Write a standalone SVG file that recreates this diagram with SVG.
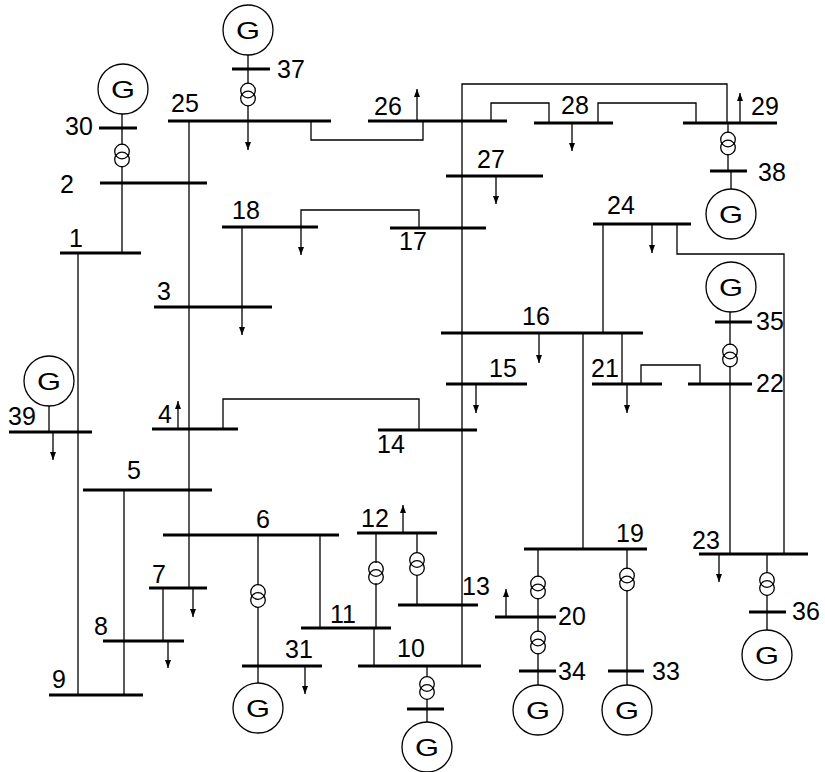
<svg xmlns="http://www.w3.org/2000/svg" xmlns:xlink="http://www.w3.org/1999/xlink" width="825" height="772" viewBox="0 0 825 772">
<style>
.ln{stroke:#000;stroke-width:1.3;fill:none}
.ld{stroke:#000;stroke-width:1.3;fill:none;marker-end:url(#ah)}
.bus{stroke:#000;stroke-width:3}
.lb{font-family:"Liberation Sans",Arial,sans-serif;font-size:25px;fill:#000}
.gc{stroke:#000;stroke-width:1.3;fill:#fff}
.gt{font-family:"Liberation Sans",Arial,sans-serif;font-size:24px;fill:#000;text-anchor:middle}
.tc{stroke:#000;stroke-width:1.3;fill:none}
</style>
<defs>
<marker id="ah" markerUnits="userSpaceOnUse" markerWidth="8" markerHeight="6" refX="8" refY="3" orient="auto">
<path d="M0,0 L8,3 L0,6 z" fill="#000"/>
</marker>
<g id="tr"><circle class="tc" cx="0" cy="-4" r="7.3"/><circle class="tc" cx="0" cy="4" r="7.3"/></g>
</defs>
<rect width="825" height="772" fill="#fff"/>

<g id="connectors">
<path class="ln" d="M248,55 V84 M248,105 V121"/>
<path class="ln" d="M122,114 V145 M122,166 V253"/>
<path class="ln" d="M258,535 V585 M258,607 V683"/>
<path class="ln" d="M376,628 V583 M376,563 V533"/>
<path class="ln" d="M417,533 V553 M417,575 V605"/>
<path class="ln" d="M427,666 V677 M427,699 V722"/>
<path class="ln" d="M728,123 V133 M728,154 V171 M731,171 V189"/>
<path class="ln" d="M730,312 V345 M730,366 V384"/>
<path class="ln" d="M538,549 V577 M538,598 V632 M538,653 V685"/>
<path class="ln" d="M627,549 V569 M627,590 V685"/>
<path class="ln" d="M767,554 V573 M767,595 V630"/>
<path class="ln" d="M49,406 V432"/>
<path class="ln" d="M189,121 V588"/>
<path class="ln" d="M78,253 V695"/>
<path class="ln" d="M124,490 V695"/>
<path class="ln" d="M223,429 V399 H419 V430"/>
<path class="ln" d="M163,588 V641"/>
<path class="ln" d="M320,535 V628"/>
<path class="ln" d="M374,628 V666"/>
<path class="ln" d="M462,666 V84 H727 V123"/>
<path class="ln" d="M311,121 V140 H423 V121"/>
<path class="ln" d="M491,121 V103 H549 V123"/>
<path class="ln" d="M598,123 V103 H696 V123"/>
<path class="ln" d="M603,224 V333"/>
<path class="ln" d="M677,224 V254 H784 V554"/>
<path class="ln" d="M622,333 V384"/>
<path class="ln" d="M641,384 V365 H700 V384"/>
<path class="ln" d="M730,384 V554"/>
<path class="ln" d="M583,333 V549"/>
<path class="ld" d="M242,227 V335"/>
<path class="ld" d="M419,228 V210 H301 V255"/>
<path class="ld" d="M248,121 V150"/>
<path class="ld" d="M53,432 V460"/>
<path class="ld" d="M178,429 V401"/>
<path class="ld" d="M193,588 V617"/>
<path class="ld" d="M168,641 V668"/>
<path class="ld" d="M305,666 V694"/>
<path class="ld" d="M403,533 V505"/>
<path class="ld" d="M417,121 V89"/>
<path class="ld" d="M572,123 V151"/>
<path class="ld" d="M740,123 V93"/>
<path class="ld" d="M496,176 V204"/>
<path class="ld" d="M539,333 V363"/>
<path class="ld" d="M652,224 V253"/>
<path class="ld" d="M627,384 V413"/>
<path class="ld" d="M476,384 V413"/>
<path class="ld" d="M506,617 V589"/>
<path class="ld" d="M719,554 V582"/>
</g>

<g id="transformers">
<use xlink:href="#tr" x="248" y="94.5"/>
<use xlink:href="#tr" x="122" y="155.5"/>
<use xlink:href="#tr" x="258" y="596"/>
<use xlink:href="#tr" x="376" y="573"/>
<use xlink:href="#tr" x="417" y="564"/>
<use xlink:href="#tr" x="427" y="688"/>
<use xlink:href="#tr" x="728" y="143.5"/>
<use xlink:href="#tr" x="730" y="355.5"/>
<use xlink:href="#tr" x="538" y="587.5"/>
<use xlink:href="#tr" x="538" y="642.5"/>
<use xlink:href="#tr" x="627" y="579.5"/>
<use xlink:href="#tr" x="767" y="584"/>
</g>

<g id="bus1"><line class="bus" x1="60" y1="253" x2="141" y2="253"/><text class="lb" x="69" y="247">1</text></g>
<g id="bus2"><line class="bus" x1="100" y1="183" x2="207" y2="183"/><text class="lb" x="60" y="193">2</text></g>
<g id="bus3"><line class="bus" x1="154" y1="307" x2="272" y2="307"/><text class="lb" x="157" y="300">3</text></g>
<g id="bus4"><line class="bus" x1="152" y1="429" x2="238" y2="429"/><text class="lb" x="158" y="423">4</text></g>
<g id="bus5"><line class="bus" x1="83" y1="490" x2="212" y2="490"/><text class="lb" x="127" y="479">5</text></g>
<g id="bus6"><line class="bus" x1="163" y1="535" x2="339" y2="535"/><text class="lb" x="256" y="528">6</text></g>
<g id="bus7"><line class="bus" x1="149" y1="588" x2="207" y2="588"/><text class="lb" x="152" y="583">7</text></g>
<g id="bus8"><line class="bus" x1="103" y1="641" x2="184" y2="641"/><text class="lb" x="94" y="635">8</text></g>
<g id="bus9"><line class="bus" x1="49" y1="695" x2="143" y2="695"/><text class="lb" x="52" y="688">9</text></g>
<g id="bus10"><line class="bus" x1="358" y1="666" x2="481" y2="666"/><text class="lb" x="397" y="657">10</text></g>
<g id="bus11"><line class="bus" x1="301" y1="628" x2="391" y2="628"/><text class="lb" x="330" y="623">11</text></g>
<g id="bus12"><line class="bus" x1="357" y1="533" x2="437" y2="533"/><text class="lb" x="361" y="527">12</text></g>
<g id="bus13"><line class="bus" x1="398" y1="605" x2="478" y2="605"/><text class="lb" x="462" y="595">13</text></g>
<g id="bus14"><line class="bus" x1="378" y1="430" x2="477" y2="430"/><text class="lb" x="377" y="453">14</text></g>
<g id="bus15"><line class="bus" x1="446" y1="384" x2="527" y2="384"/><text class="lb" x="489" y="377">15</text></g>
<g id="bus16"><line class="bus" x1="441" y1="333" x2="643" y2="333"/><text class="lb" x="522" y="325">16</text></g>
<g id="bus17"><line class="bus" x1="390" y1="228" x2="486" y2="228"/><text class="lb" x="399" y="250">17</text></g>
<g id="bus18"><line class="bus" x1="222" y1="227" x2="318" y2="227"/><text class="lb" x="232" y="219">18</text></g>
<g id="bus19"><line class="bus" x1="524" y1="549" x2="647" y2="549"/><text class="lb" x="616" y="542">19</text></g>
<g id="bus20"><line class="bus" x1="495" y1="617" x2="556" y2="617"/><text class="lb" x="558" y="625">20</text></g>
<g id="bus21"><line class="bus" x1="592" y1="384" x2="662" y2="384"/><text class="lb" x="591" y="377">21</text></g>
<g id="bus22"><line class="bus" x1="688" y1="384" x2="752" y2="384"/><text class="lb" x="756" y="392">22</text></g>
<g id="bus23"><line class="bus" x1="699" y1="554" x2="808" y2="554"/><text class="lb" x="692" y="549">23</text></g>
<g id="bus24"><line class="bus" x1="593" y1="224" x2="691" y2="224"/><text class="lb" x="607" y="214">24</text></g>
<g id="bus25"><line class="bus" x1="168" y1="121" x2="331" y2="121"/><text class="lb" x="171" y="112">25</text></g>
<g id="bus26"><line class="bus" x1="368" y1="121" x2="507" y2="121"/><text class="lb" x="374" y="115">26</text></g>
<g id="bus27"><line class="bus" x1="446" y1="176" x2="543" y2="176"/><text class="lb" x="477" y="168">27</text></g>
<g id="bus28"><line class="bus" x1="534" y1="123" x2="613" y2="123"/><text class="lb" x="561" y="114">28</text></g>
<g id="bus29"><line class="bus" x1="683" y1="123" x2="777" y2="123"/><text class="lb" x="751" y="115">29</text></g>
<g id="bus30"><line class="bus" x1="99" y1="128" x2="137" y2="128"/><text class="lb" x="65" y="135">30</text></g>
<g id="bus31"><line class="bus" x1="242" y1="666" x2="322" y2="666"/><text class="lb" x="285" y="658">31</text></g>
<g id="bus32"><line class="bus" x1="407" y1="709" x2="444" y2="709"/></g>
<g id="bus33"><line class="bus" x1="608" y1="671" x2="644" y2="671"/><text class="lb" x="652" y="680">33</text></g>
<g id="bus34"><line class="bus" x1="519" y1="671" x2="556" y2="671"/><text class="lb" x="558" y="680">34</text></g>
<g id="bus35"><line class="bus" x1="715" y1="322" x2="752" y2="322"/><text class="lb" x="756" y="330">35</text></g>
<g id="bus36"><line class="bus" x1="749" y1="612" x2="786" y2="612"/><text class="lb" x="792" y="620">36</text></g>
<g id="bus37"><line class="bus" x1="232" y1="69" x2="270" y2="69"/><text class="lb" x="277" y="78">37</text></g>
<g id="bus38"><line class="bus" x1="710" y1="171" x2="747" y2="171"/><text class="lb" x="758" y="181">38</text></g>
<g id="bus39"><line class="bus" x1="9" y1="432" x2="92" y2="432"/><text class="lb" x="8" y="425">39</text></g>

<g id="gen30"><circle class="gc" cx="123" cy="89" r="25"/><text class="gt" x="123" y="97.5" textLength="24" lengthAdjust="spacingAndGlyphs">G</text></g>
<g id="gen37"><circle class="gc" cx="248" cy="30" r="25"/><text class="gt" x="248" y="38.5" textLength="24" lengthAdjust="spacingAndGlyphs">G</text></g>
<g id="gen38"><circle class="gc" cx="731" cy="214" r="25"/><text class="gt" x="731" y="222.5" textLength="24" lengthAdjust="spacingAndGlyphs">G</text></g>
<g id="gen35"><circle class="gc" cx="731" cy="287" r="25"/><text class="gt" x="731" y="295.5" textLength="24" lengthAdjust="spacingAndGlyphs">G</text></g>
<g id="gen39"><circle class="gc" cx="49" cy="381" r="25"/><text class="gt" x="49" y="389.5" textLength="24" lengthAdjust="spacingAndGlyphs">G</text></g>
<g id="gen31"><circle class="gc" cx="258" cy="708" r="25"/><text class="gt" x="258" y="716.5" textLength="24" lengthAdjust="spacingAndGlyphs">G</text></g>
<g id="gen32"><circle class="gc" cx="427" cy="747" r="25"/><text class="gt" x="427" y="755.5" textLength="24" lengthAdjust="spacingAndGlyphs">G</text></g>
<g id="gen34"><circle class="gc" cx="538" cy="710" r="25"/><text class="gt" x="538" y="718.5" textLength="24" lengthAdjust="spacingAndGlyphs">G</text></g>
<g id="gen33"><circle class="gc" cx="627" cy="710" r="25"/><text class="gt" x="627" y="718.5" textLength="24" lengthAdjust="spacingAndGlyphs">G</text></g>
<g id="gen36"><circle class="gc" cx="767" cy="655" r="25"/><text class="gt" x="767" y="663.5" textLength="24" lengthAdjust="spacingAndGlyphs">G</text></g>
</svg>
